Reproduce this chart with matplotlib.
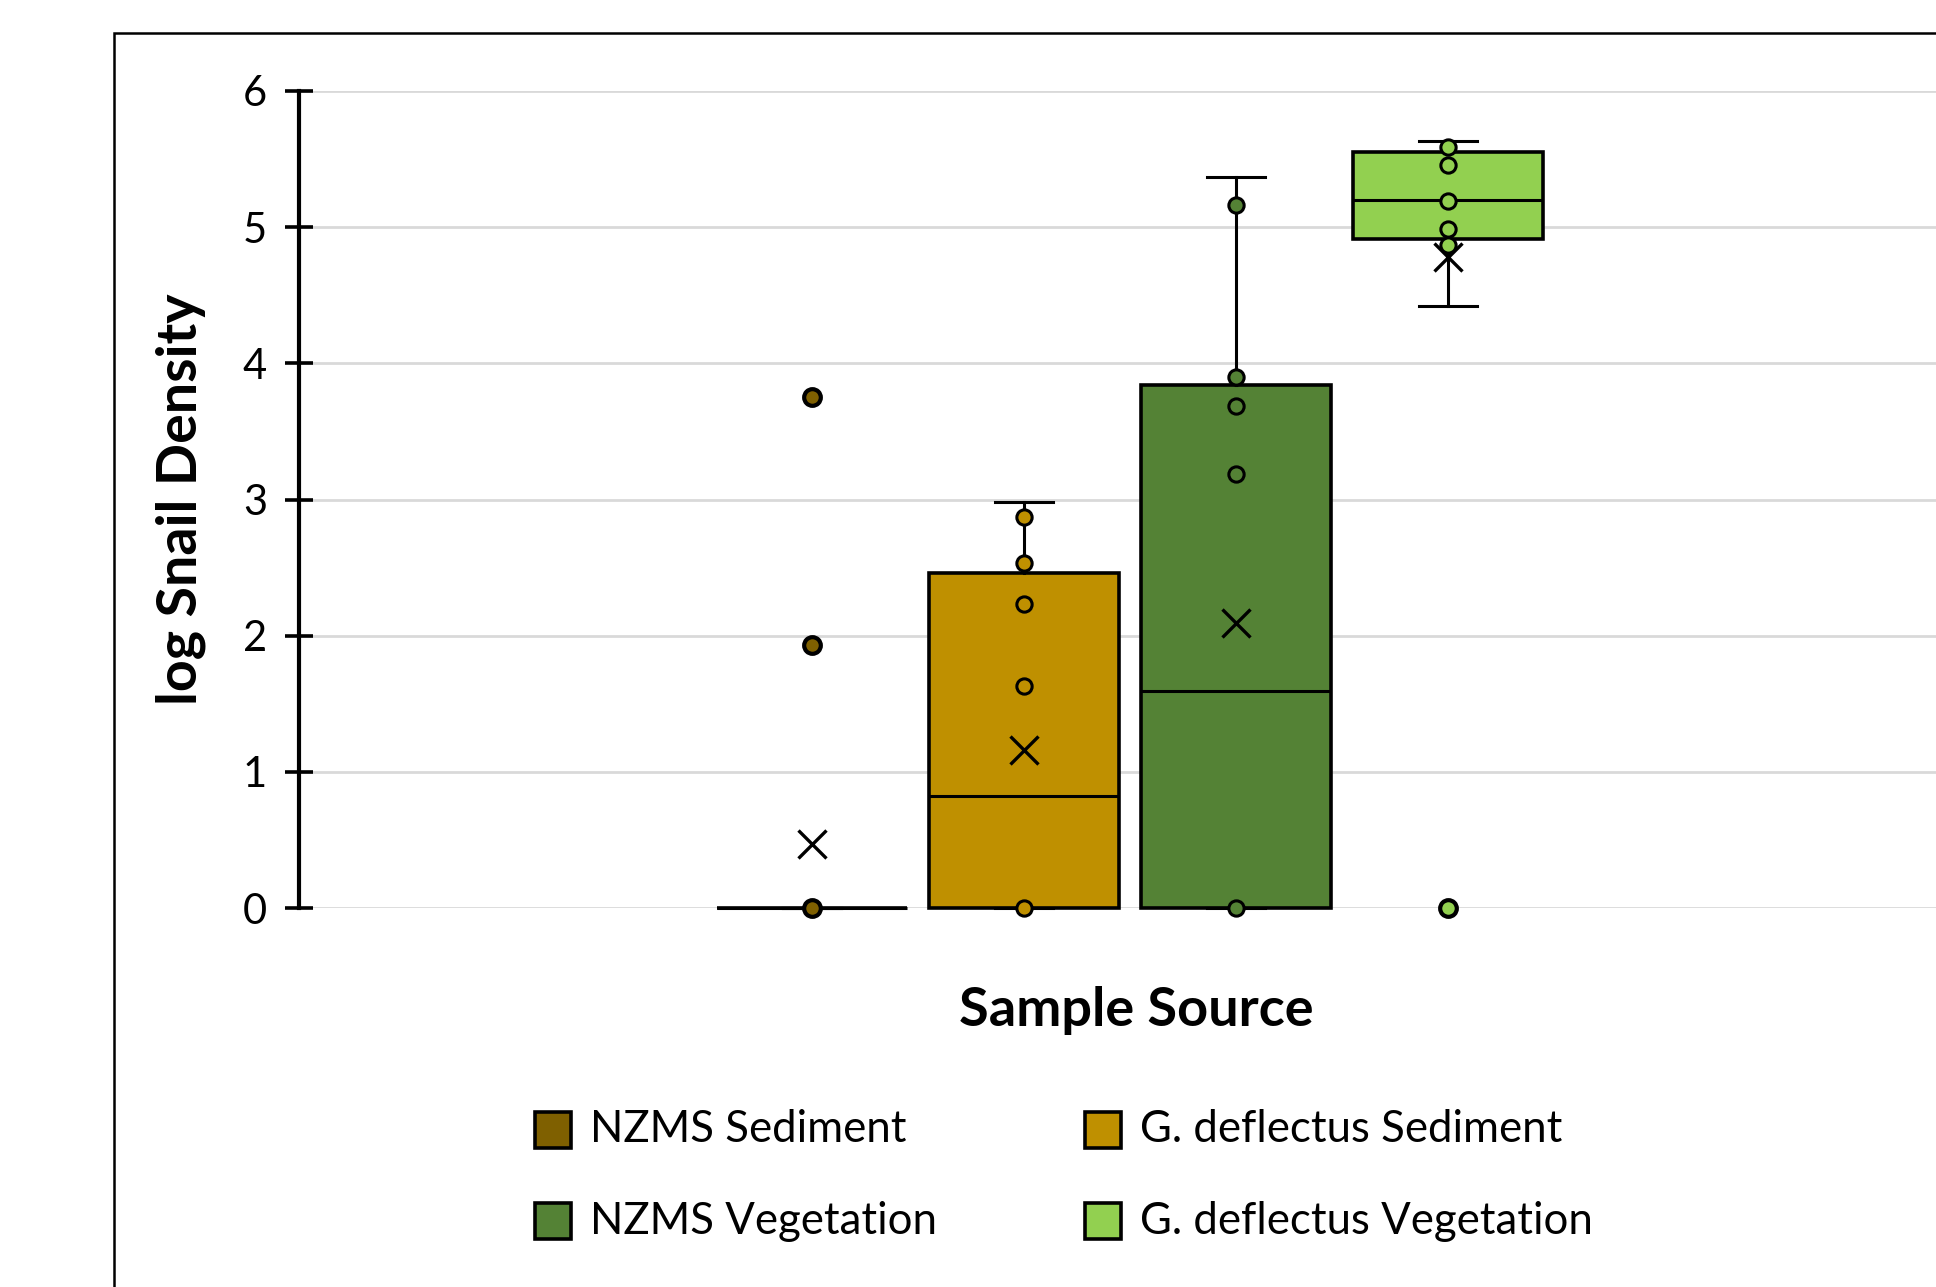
import numpy as np
import matplotlib.pyplot as plt
from matplotlib.patches import Rectangle

plt.rcParams['font.family'] = ['Lato', 'DejaVu Sans']

# ── data ──
series = ['NZMS Sediment', 'G. deflectus Sediment', 'NZMS Vegetation', 'G. deflectus Vegetation']
colors = ['#7F6000', '#BF9000', '#548235', '#92D050']

q1 = [0.0, 0.0, 0.0, 4.91]
med = [0.0, 0.82, 1.59, 5.20]
q3 = [0.0, 2.46, 3.84, 5.55]
whis_lo = [0.0, 0.0, 0.0, 4.42]
whis_hi = [0.0, 2.98, 5.37, 5.63]
means = [0.47, 1.16, 2.09, 4.78]

inner_pts = [
    [],
    [0.0, 1.63, 2.23, 2.53, 2.87],
    [0.0, 3.19, 3.69, 3.90, 5.16],
    [4.87, 4.99, 5.19, 5.46, 5.59],
]
outliers = [[0.0, 1.93, 3.75], [], [], [0.0]]

yticks = [0, 1, 2, 3, 4, 5, 6]

W, H = 1936, 1287
fig = plt.figure(figsize=(W / 100, H / 100), dpi=100)
# plot area runs past the right edge, as in the cropped original
ax = fig.add_axes([299 / W, 1 - 908 / H, 1662 / W, 817 / H])

pos = np.arange(len(series))
stats = []
for i in range(len(series)):
    stats.append(dict(med=med[i], q1=q1[i], q3=q3[i], whislo=whis_lo[i],
                      whishi=whis_hi[i], mean=means[i], fliers=outliers[i]))

bp = ax.bxp(stats, positions=pos, widths=0.9, capwidths=0.27, patch_artist=True,
            showmeans=True, showfliers=False,
            boxprops=dict(edgecolor='black', linewidth=2.6),
            medianprops=dict(color='black', linewidth=2.2),
            whiskerprops=dict(color='black', linewidth=2.2),
            capprops=dict(color='black', linewidth=2.2),
            meanprops=dict(marker='x', markeredgecolor='black', markersize=20,
                           markeredgewidth=2.4))
for box, c in zip(bp['boxes'], colors):
    box.set_facecolor(c)
    box.set_zorder(2)
for key in ['boxes', 'medians', 'whiskers', 'caps', 'means']:
    for art in bp[key]:
        art.set_clip_on(False)

for i, c in enumerate(colors):
    ax.plot([pos[i]] * len(inner_pts[i]), inner_pts[i], 'o', ls='none',
            mfc=c, mec='black', mew=2.2, ms=11, zorder=3, clip_on=False)
    ax.plot([pos[i]] * len(outliers[i]), outliers[i], 'o', ls='none',
            mfc=c, mec='black', mew=3.0, ms=12, zorder=3, clip_on=False)
for m in bp['means']:
    m.set_zorder(4)

ax.set_xlim(1.5 - 3.92, 1.5 + 3.92)
ax.set_ylim(0, 6)
ax.set_yticks(yticks)
ax.set_xticks([])
ax.yaxis.grid(True, color='#D9D9D9', linewidth=2.0)
ax.set_axisbelow(True)
for s in ['top', 'right', 'bottom']:
    ax.spines[s].set_visible(False)
ax.spines['left'].set_linewidth(3.0)
ax.tick_params(axis='y', direction='inout', length=20, width=2.6, pad=13,
               labelsize=30)

ax.set_ylabel('log Snail Density', fontsize=40, fontweight='bold')
ax.yaxis.set_label_coords(-0.071, 0.5)
ax.yaxis.label.set_verticalalignment('center')
ax.set_xlabel('Sample Source', fontsize=39, fontweight='bold')
ax.xaxis.set_label_coords(0.504, -0.125)
ax.xaxis.label.set_verticalalignment('center')

# outer chart frame (cut off at right and bottom)
fig.patches.append(Rectangle((114 / W, -0.2), 1.2, 1 - 33 / H + 0.2,
                             transform=fig.transFigure, fill=False,
                             edgecolor='black', linewidth=1.8))

# legend, two columns
col_x = [535, 1085]
row_y = [1130, 1221]
for i, (name, c) in enumerate(zip(series, colors)):
    x = col_x[i % 2]
    y = row_y[i // 2]
    fig.patches.append(Rectangle((x / W, 1 - (y + 18) / H), 36 / W, 36 / H,
                                 transform=fig.transFigure, facecolor=c,
                                 edgecolor='black', linewidth=2.6))
    fig.text((x + 55) / W, 1 - y / H, name, fontsize=31.5, ha='left', va='center')

fig.savefig('out.png', dpi=100, facecolor='white')
